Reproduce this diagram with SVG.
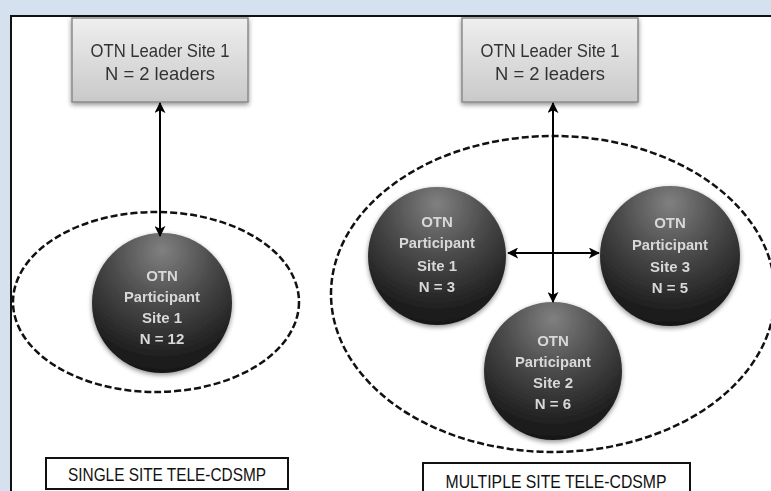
<svg xmlns="http://www.w3.org/2000/svg" width="771" height="491" viewBox="0 0 771 491">
<defs>
<linearGradient id="boxg" x1="0" y1="0" x2="0" y2="1">
<stop offset="0" stop-color="#efefef"/>
<stop offset="1" stop-color="#c9c9c9"/>
</linearGradient>
<radialGradient id="ball" cx="50%" cy="18%" r="85%" fx="50%" fy="12%">
<stop offset="0" stop-color="#808080"/>
<stop offset="0.45" stop-color="#484848"/>
<stop offset="0.85" stop-color="#1e1e1e"/>
<stop offset="1" stop-color="#161616"/>
</radialGradient>
<filter id="shadow" x="-20%" y="-20%" width="140%" height="140%">
<feGaussianBlur in="SourceAlpha" stdDeviation="2.5"/>
<feOffset dx="0" dy="2" result="b"/>
<feComponentTransfer><feFuncA type="linear" slope="0.45"/></feComponentTransfer>
<feMerge><feMergeNode/><feMergeNode in="SourceGraphic"/></feMerge>
</filter>
<marker id="ah" viewBox="0 0 12 12" refX="11" refY="6" markerWidth="11" markerHeight="11" markerUnits="userSpaceOnUse" orient="auto-start-reverse">
<path d="M0,0 L12,6 L0,12 L3,6 Z" fill="#000"/>
</marker>
</defs>
<style>
.lead{fill:url(#boxg);stroke:#8a8a8a;stroke-width:1.5}
.lt{font-family:"Liberation Sans",Arial,sans-serif;font-size:19px;fill:#333;text-anchor:middle}
.ball{fill:url(#ball)}
.bt{font-family:"Liberation Sans",Arial,sans-serif;font-size:15px;font-weight:bold;fill:#d8d8d8;text-anchor:middle}
.dash{fill:none;stroke:#111;stroke-width:2.5;stroke-dasharray:7 3}
.conn{stroke:#000;stroke-width:2;fill:none;marker-start:url(#ah);marker-end:url(#ah)}
.lab{fill:#fff;stroke:#111;stroke-width:2}
.labt{font-family:"Liberation Sans",Arial,sans-serif;font-size:18px;fill:#111;text-anchor:middle}
</style>
<rect x="0" y="0" width="771" height="491" fill="#d5e1ef"/>
<rect x="11" y="16" width="770" height="490" fill="#fff" stroke="#111" stroke-width="2"/>

<g id="group-single">
<ellipse class="dash" cx="156" cy="302" rx="143" ry="90"/>
</g>
<g id="group-multiple">
<ellipse class="dash" cx="553" cy="294" rx="222" ry="158"/>
</g>

<g id="leader-left" filter="url(#shadow)">
<rect class="lead" x="72" y="18" width="176" height="84"/>
<text class="lt" x="160" y="57" textLength="139" lengthAdjust="spacingAndGlyphs">OTN Leader Site 1</text>
<text class="lt" x="160" y="80" textLength="110" lengthAdjust="spacingAndGlyphs">N = 2 leaders</text>
</g>
<g id="leader-right" filter="url(#shadow)">
<rect class="lead" x="462" y="18" width="176" height="84"/>
<text class="lt" x="550" y="57" textLength="139" lengthAdjust="spacingAndGlyphs">OTN Leader Site 1</text>
<text class="lt" x="550" y="80" textLength="110" lengthAdjust="spacingAndGlyphs">N = 2 leaders</text>
</g>

<g id="single-site1" filter="url(#shadow)">
<circle class="ball" cx="162" cy="303" r="70"/>
<text class="bt" x="162" y="281">OTN</text>
<text class="bt" x="162" y="302" textLength="76" lengthAdjust="spacingAndGlyphs">Participant</text>
<text class="bt" x="162" y="323">Site  1</text>
<text class="bt" x="162" y="344">N = 12</text>
</g>
<g id="multi-site1" filter="url(#shadow)">
<circle class="ball" cx="437" cy="256" r="69"/>
<text class="bt" x="437" y="227">OTN</text>
<text class="bt" x="437" y="248" textLength="76" lengthAdjust="spacingAndGlyphs">Participant</text>
<text class="bt" x="437" y="271">Site  1</text>
<text class="bt" x="437" y="292">N = 3</text>
</g>
<g id="multi-site3" filter="url(#shadow)">
<circle class="ball" cx="670" cy="256" r="70"/>
<text class="bt" x="670" y="228">OTN</text>
<text class="bt" x="670" y="250" textLength="76" lengthAdjust="spacingAndGlyphs">Participant</text>
<text class="bt" x="670" y="272">Site  3</text>
<text class="bt" x="670" y="293">N = 5</text>
</g>
<g id="multi-site2" filter="url(#shadow)">
<circle class="ball" cx="553" cy="371" r="69"/>
<text class="bt" x="553" y="346">OTN</text>
<text class="bt" x="553" y="367" textLength="76" lengthAdjust="spacingAndGlyphs">Participant</text>
<text class="bt" x="553" y="388">Site  2</text>
<text class="bt" x="553" y="409">N = 6</text>
</g>

<g id="connectors">
<line class="conn" x1="160" y1="103" x2="160" y2="236"/>
<line class="conn" x1="553" y1="103" x2="553" y2="302"/>
<line class="conn" x1="508" y1="253" x2="599" y2="253"/>
</g>

<g id="label-single">
<rect class="lab" x="46" y="458" width="242" height="31"/>
<text class="labt" x="167" y="481" textLength="198" lengthAdjust="spacingAndGlyphs">SINGLE SITE TELE-CDSMP</text>
</g>
<g id="label-multiple">
<rect class="lab" x="423" y="463" width="267" height="40"/>
<text class="labt" x="556" y="488" textLength="221" lengthAdjust="spacingAndGlyphs">MULTIPLE SITE TELE-CDSMP</text>
</g>
</svg>
